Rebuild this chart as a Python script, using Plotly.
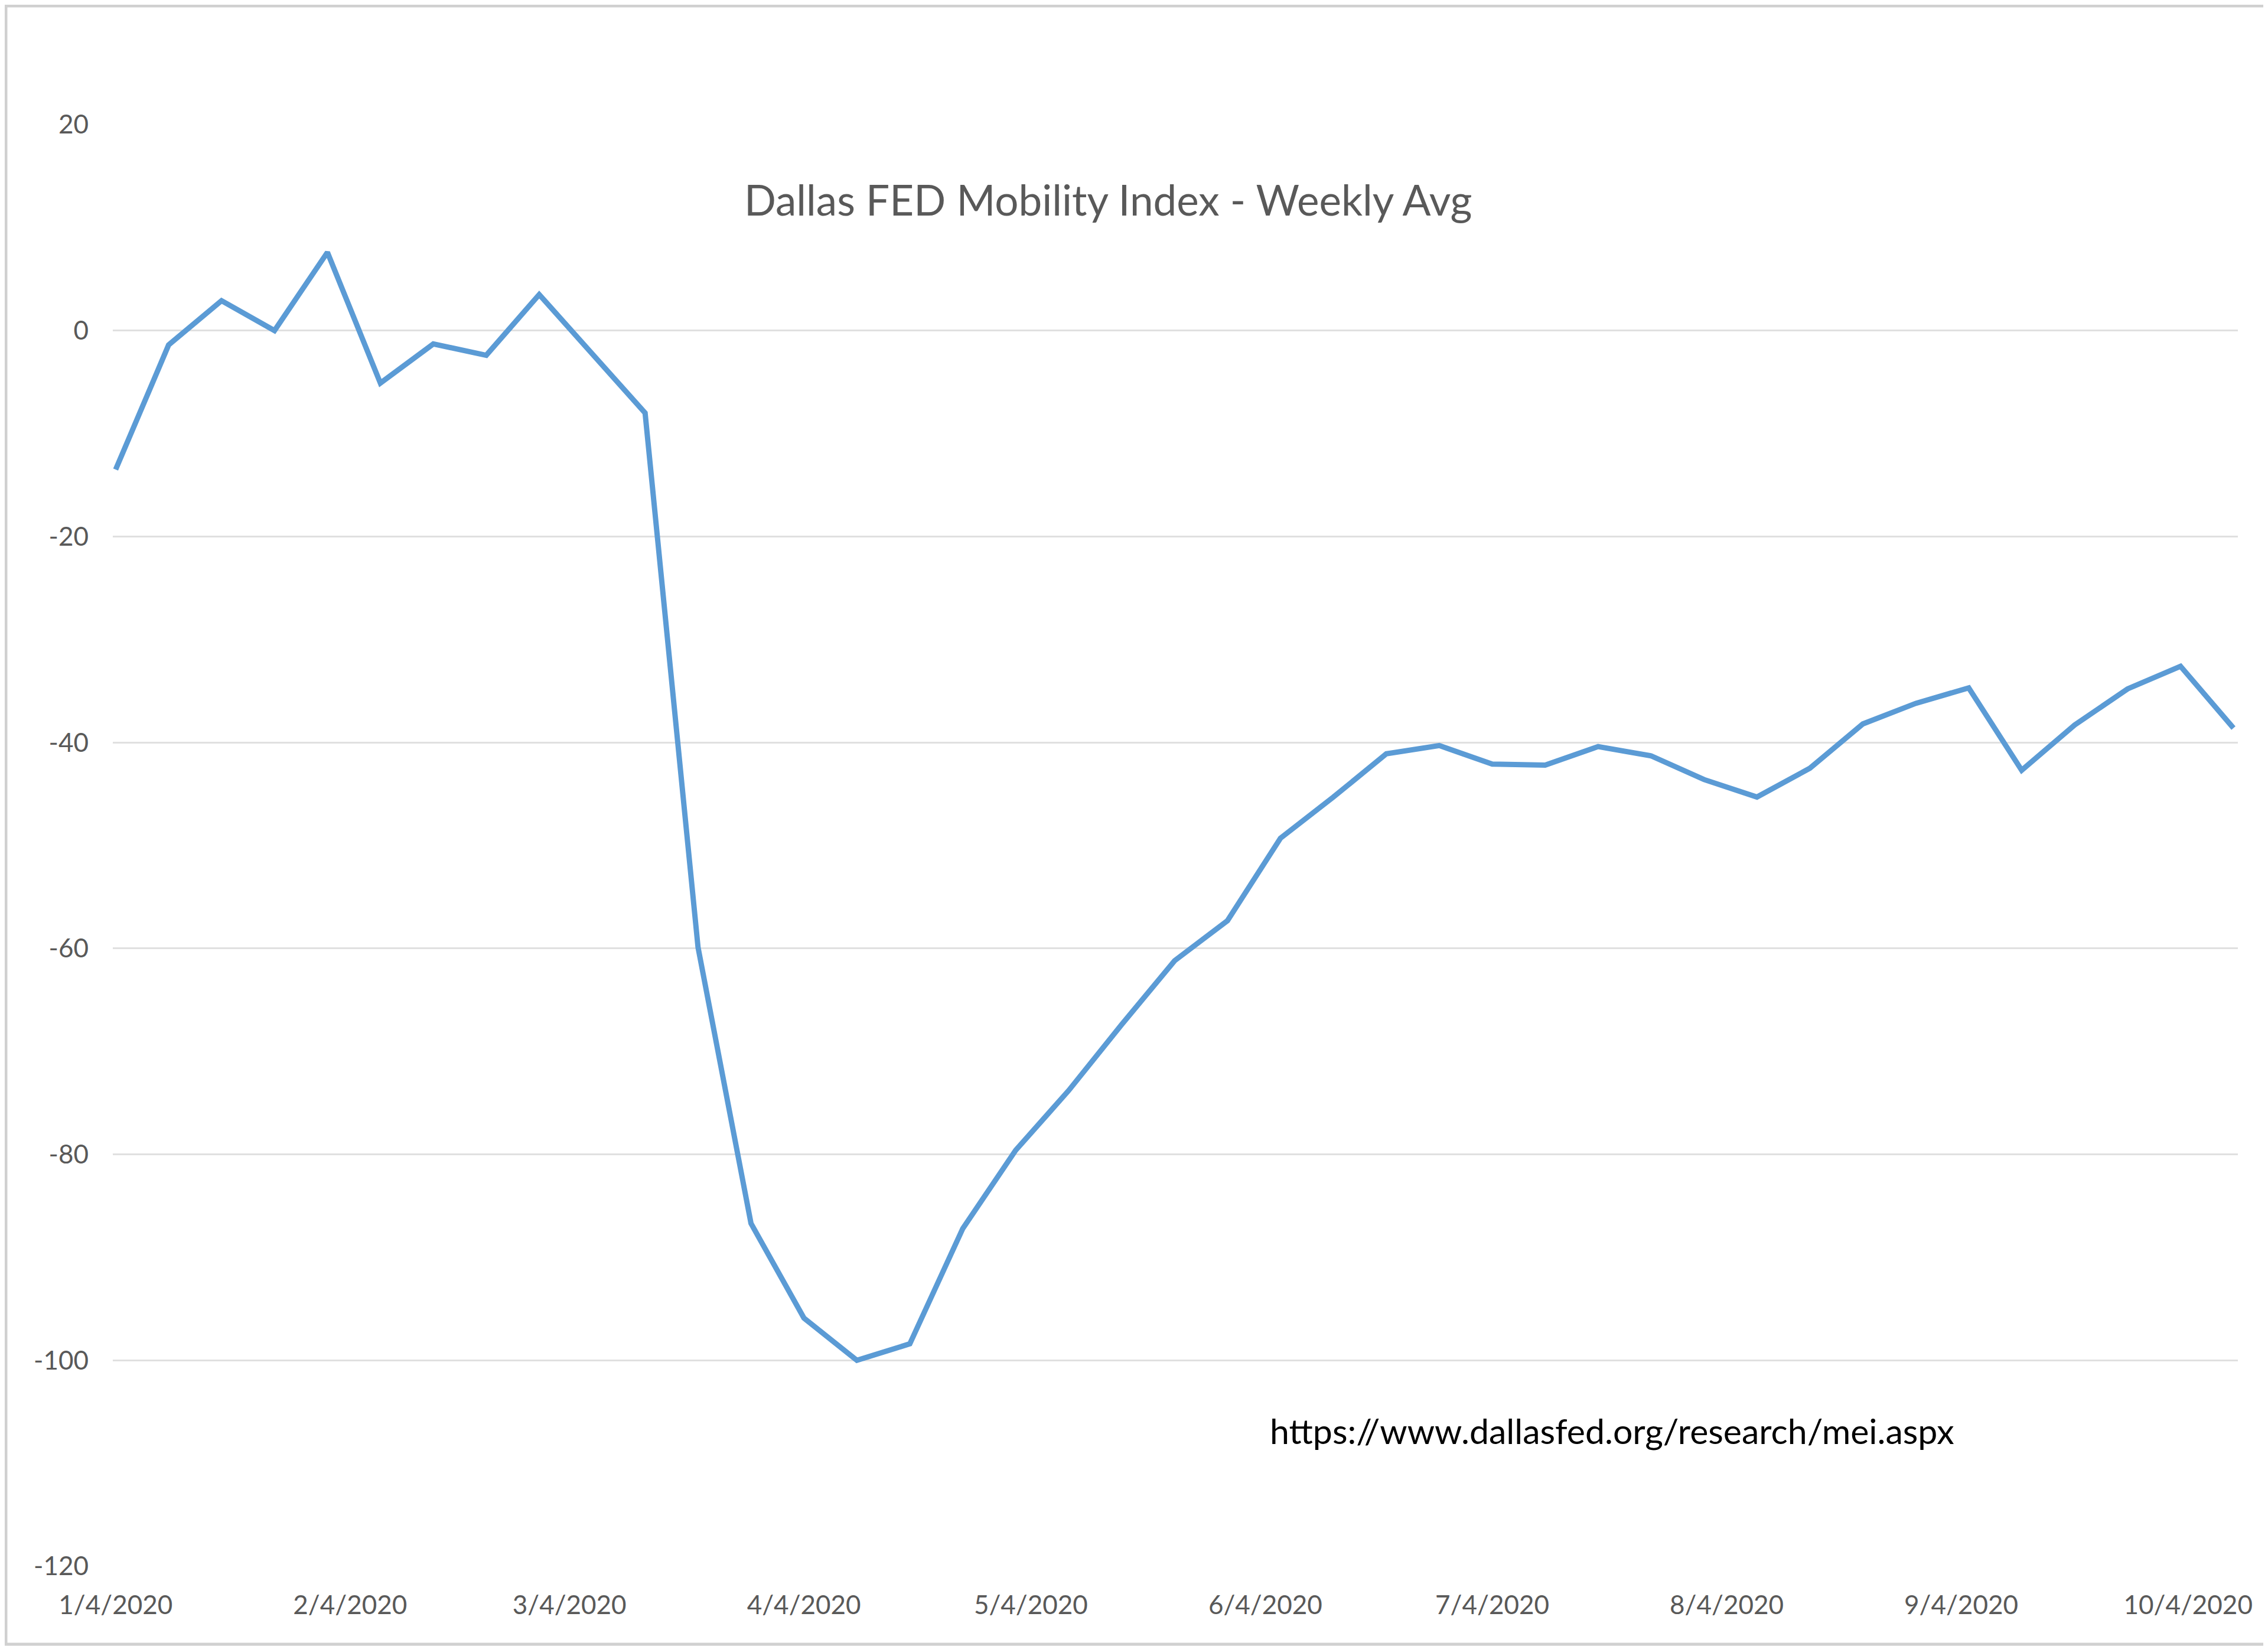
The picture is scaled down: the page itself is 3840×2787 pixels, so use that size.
import pandas as pd
import plotly.graph_objects as go

# weekly averages, Saturdays from 1/4/2020
weeks = pd.date_range("2020-01-04", periods=41, freq="7D")
mobility = [
    -13.5, -1.4, 2.9, 0.0, 7.6, -5.1, -1.3, -2.4, 3.5, -2.3,
    -8.0, -59.9, -86.7, -95.9, -100.0, -98.4, -87.2, -79.6, -73.8, -67.4,
    -61.2, -57.3, -49.3, -45.3, -41.1, -40.3, -42.1, -42.2, -40.4, -41.3,
    -43.6, -45.3, -42.5, -38.2, -36.2, -34.7, -42.7, -38.3, -34.8, -32.6,
    -38.6,
]

y_ticks = [-120, -100, -80, -60, -40, -20, 0, 20]
y_labels = ["-120", "-100", "-80", "-60", "-40", "-20", "0", "20"]
x_ticks = ["2020-01-04", "2020-02-04", "2020-03-04", "2020-04-04", "2020-05-04",
           "2020-06-04", "2020-07-04", "2020-08-04", "2020-09-04", "2020-10-04"]
x_labels = ["1/4/2020", "2/4/2020", "3/4/2020", "4/4/2020", "5/4/2020",
            "6/4/2020", "7/4/2020", "8/4/2020", "9/4/2020", "10/4/2020"]

title = "Dallas FED Mobility Index - Weekly Avg"
source = "https://www.dallasfed.org/research/mei.aspx"

# page body adds an 8px offset, so figure coords = screen coords - 8
W, H = 3840, 2787
OFF = 8
L, R, T, B = 191 - OFF, W - 3789 + OFF, 211 - OFF, H - 2652 + OFF
pw, ph = W - L - R, H - T - B
x_range = ["2020-01-03 15:00", "2020-10-10 14:00"]
grid = "#e0e0e0"
txt = "#595959"


def px(x):
    return (x - OFF - L) / pw


def py(y):
    return (H - B - (y - OFF)) / ph


fig = go.Figure()
fig.add_trace(go.Scatter(
    x=weeks, y=mobility, mode="lines",
    line=dict(color="#5B9BD5", width=9),
    showlegend=False,
))

fig.update_layout(
    width=W, height=H,
    margin=dict(l=L, r=R, t=T, b=B, pad=0),
    paper_bgcolor="white", plot_bgcolor="white",
    font=dict(family="Lato", color=txt),
    xaxis=dict(
        range=x_range, tickvals=x_ticks, ticktext=x_labels,
        showgrid=False, zeroline=False, showline=False, ticks="",
        tickfont=dict(size=44, color=txt), ticklabelstandoff=36,
    ),
    xaxis2=dict(
        range=x_range, tickvals=x_ticks, overlaying="x", anchor="free",
        position=120 / 140, ticks="outside", ticklen=14, tickwidth=3,
        tickcolor=grid, showticklabels=False, showgrid=False,
        zeroline=False, showline=False,
    ),
    yaxis=dict(
        range=[-120, 20], tickvals=y_ticks, ticktext=y_labels,
        showgrid=True, gridcolor=grid, gridwidth=3,
        zeroline=False, showline=False, ticks="",
        tickfont=dict(size=44, color=txt), ticklabelstandoff=40,
    ),
    shapes=[dict(
        type="rect", xref="paper", yref="paper",
        x0=px(OFF + 2), x1=px(W - 3),
        y0=py(H - 3), y1=py(OFF + 2),
        line=dict(color="#d0d0d0", width=5), fillcolor="rgba(0,0,0,0)",
        layer="above",
    )],
    annotations=[
        dict(text=title, xref="paper", yref="paper",
             x=px(1876), y=py(338),
             xanchor="center", yanchor="middle", showarrow=False,
             font=dict(size=71, color=txt, family="Lato")),
        dict(text=source, xref="paper", yref="paper",
             x=px(2729), y=py(2422),
             xanchor="center", yanchor="middle", showarrow=False,
             font=dict(size=59, color="black", family="Lato")),
    ],
)

fig.write_html("out.html")
